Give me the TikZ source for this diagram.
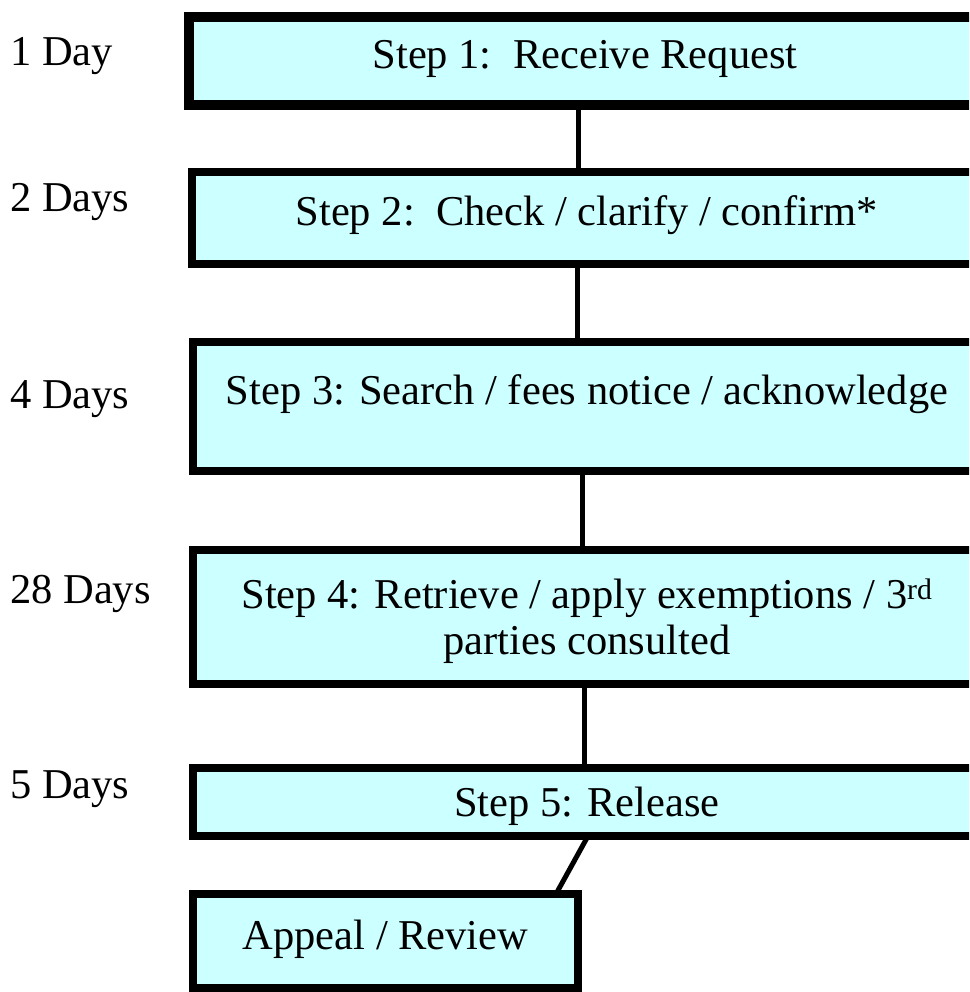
\documentclass[tikz,border=0pt]{standalone}
\usepackage{fontspec}
\setmainfont{Liberation Serif}
\definecolor{boxfill}{HTML}{CCFFFF}
\begin{document}
\begin{tikzpicture}[x=1pt,y=-1pt,
  stepbox/.style={draw=black, fill=boxfill, line width=8pt, rectangle, inner sep=0pt, outer sep=0pt, anchor=north west},
  steptext/.style={inner sep=0pt, font=\fontsize{42.5}{46}\selectfont, align=center},
  daylabel/.style={anchor=base west, inner sep=0pt, font=\fontsize{42.5}{46}\selectfont},
  link/.style={line width=5pt}]
\useasboundingbox (0,0) rectangle (969,992);
\clip (0,0) rectangle (969,992);
\node[stepbox, line width=10pt, minimum width=792pt, minimum height=88pt,
  label={[steptext, yshift=2pt]center:Step 1:\ \ Receive Request}] (s1) at (189,17) {};
\node[stepbox, minimum width=789pt, minimum height=92pt,
  label={[steptext, yshift=3pt]center:Step 2:\ \ Check / clarify / confirm*}] (s2) at (192,172) {};
\node[stepbox, minimum width=788pt, minimum height=129pt,
  label={[steptext, yshift=12pt]center:Step 3: Search / fees notice / acknowledge}] (s3) at (193,342) {};
\node[stepbox, minimum width=788pt, minimum height=134pt,
  label={[steptext, yshift=-4pt]center:Step 4: Retrieve / apply exemptions / 3\textsuperscript{rd}\\parties consulted}] (s4) at (193,550) {};
\node[stepbox, minimum width=788pt, minimum height=68pt,
  label={[steptext, yshift=-4pt]center:Step 5: Release}] (s5) at (193,768) {};
\node[stepbox, minimum width=385pt, minimum height=94pt,
  label={[steptext, yshift=2pt]center:Appeal / Review}] (ap) at (193,894) {};
\node[daylabel] (d1) at (10,66) {1 Day};
\node[daylabel] (d2) at (10,212) {2 Days};
\node[daylabel] (d3) at (10,408) {4 Days};
\node[daylabel] (d4) at (10,603) {28 Days};
\node[daylabel] (d5) at (10,798) {5 Days};
\draw[link] ([xshift=-7pt]s1.south) -- ([xshift=-7pt]s1.south |- s2.north);
\draw[link] ([xshift=-9pt]s2.south) -- ([xshift=-9pt]s2.south |- s3.north);
\draw[link] ([xshift=-5pt]s3.south) -- ([xshift=-5pt]s3.south |- s4.north);
\draw[link] ([xshift=-3pt]s4.south) -- ([xshift=-3pt]s4.south |- s5.north);
\draw[link] ([xshift=1pt]s5.south) -- ([xshift=-22pt]ap.north east);
\end{tikzpicture}
\end{document}
